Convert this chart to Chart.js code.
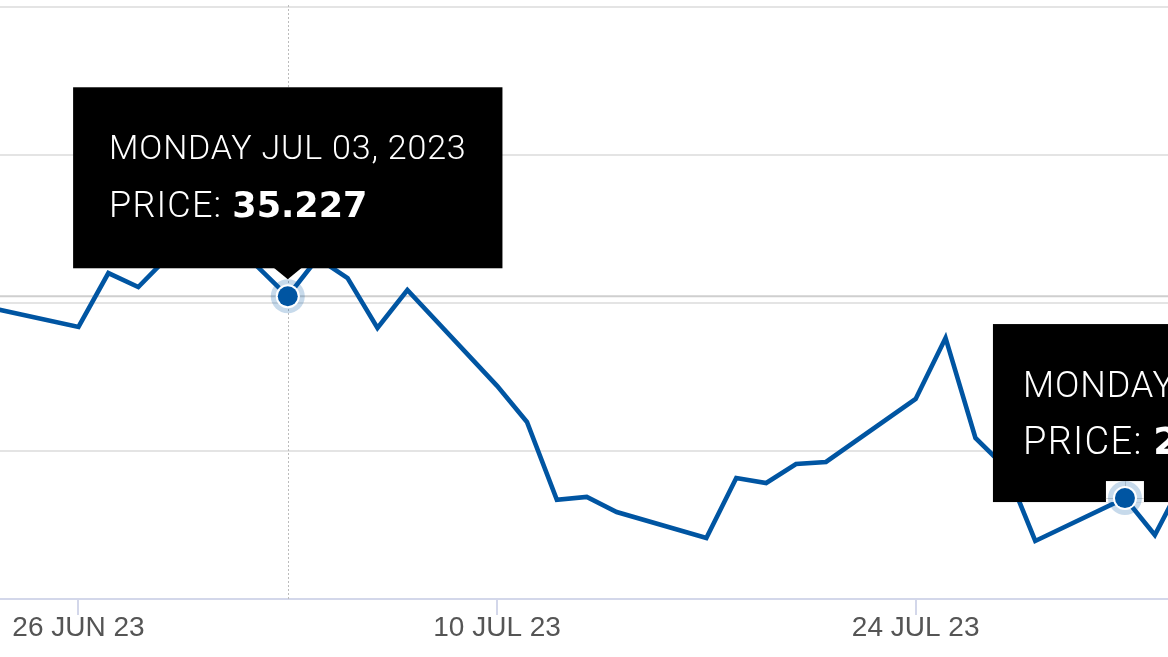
<!DOCTYPE html>
<html>
<head>
<meta charset="utf-8">
<script src="https://cdn.jsdelivr.net/npm/chart.js@4.4.0/dist/chart.umd.min.js"></script>
<style>
html,body{margin:0;padding:0;background:#fff;overflow:hidden}
#wrap{width:1168px;height:657px;position:relative}
</style>
</head>
<body>
<div id="wrap"><canvas id="c" width="1168" height="657"></canvas></div>
<script>
// ---- data ----
const dates = ['2023-06-23','2023-06-26','2023-06-27','2023-06-28','2023-06-29','2023-06-30',
  '2023-07-03','2023-07-04','2023-07-05','2023-07-06','2023-07-07',
  '2023-07-10','2023-07-11','2023-07-12','2023-07-13','2023-07-14',
  '2023-07-17','2023-07-18','2023-07-19','2023-07-20','2023-07-21',
  '2023-07-24','2023-07-25','2023-07-26','2023-07-27','2023-07-28',
  '2023-07-31','2023-08-01','2023-08-02'];
const prices = [34.85, 34.19, 36.01, 35.54, 36.57, 38.20,
  35.227, 36.52, 35.84, 34.16, 35.44,
  32.20, 30.98, 28.35, 28.45, 27.94,
  27.06, 29.09, 28.92, 29.56, 29.63,
  31.76, 33.82, 30.44, 29.45, 26.96,
  28.41, 27.16, 29.10];
const tickDates = ['2023-06-26','2023-07-10','2023-07-24'];
const tickLabels = ['26 JUN 23','10 JUL 23','24 JUL 23'];
const yGridValues = [25, 30, 35, 40, 45];
const tipDates = ['2023-07-03','2023-07-31'];
const tipTitles = ['MONDAY JUL 03, 2023','MONDAY JUL 31, 2023'];
const tipLabel = 'PRICE:';
const tipValues = ['35.227','28.410'];

// ---- helpers ----
const BASE = Date.parse('2023-06-26T00:00:00Z');
const dayOf = s => (Date.parse(s + 'T00:00:00Z') - BASE) / 86400000;
const priceOf = s => prices[dates.indexOf(s)];

const LINE = '#0055a2';

function drawPoint(ctx, px, py) {
  ctx.save();
  ctx.fillStyle = 'rgba(0,85,162,0.22)';
  ctx.beginPath(); ctx.arc(px, py, 17, 0, Math.PI * 2); ctx.fill();
  ctx.fillStyle = '#ffffff';
  ctx.beginPath(); ctx.arc(px, py, 12, 0, Math.PI * 2); ctx.fill();
  ctx.fillStyle = LINE;
  ctx.beginPath(); ctx.arc(px, py, 10, 0, Math.PI * 2); ctx.fill();
  ctx.restore();
}

// style per tooltip (index matches tipDates)
const tipStyles = [
  {titleFont:'300 34px Roboto', titleLS:'0.8px', labelFont:'300 36px Roboto', labelLS:'1.2px',
   valueFont:'bold 35px "DejaVu Sans"', padX:36, height:181, gap:28, titleOff:72, bodyOff:130,
   align:'center', caret:true},
  {titleFont:'300 36px Roboto', titleLS:'0.9px', labelFont:'300 38px Roboto', labelLS:'1.3px',
   valueFont:'bold 37px "DejaVu Sans"', padX:30, height:178, gap:-4, titleOff:73, bodyOff:130,
   align:'left', leftOff:132, caret:false}
];

function drawTip(ctx, i, px, py) {
  const s = tipStyles[i];
  ctx.save();
  ctx.textBaseline = 'alphabetic';
  ctx.font = s.titleFont; ctx.letterSpacing = s.titleLS;
  const tw = ctx.measureText(tipTitles[i]).width;
  ctx.font = s.labelFont; ctx.letterSpacing = s.labelLS;
  const lw = ctx.measureText(tipLabel + ' ').width;
  ctx.font = s.valueFont; ctx.letterSpacing = '0px';
  const vw = ctx.measureText(tipValues[i]).width;
  const w = Math.max(tw, lw + vw) + s.padX * 2;
  const bottom = py - s.gap;
  const top = bottom - s.height;
  const left = s.align === 'center' ? px - w / 2 : px - s.leftOff;
  ctx.fillStyle = '#000';
  ctx.fillRect(left, top, w, s.height);
  if (s.caret) {
    ctx.beginPath();
    ctx.moveTo(px - 14, bottom - 0.5);
    ctx.lineTo(px + 14, bottom - 0.5);
    ctx.lineTo(px, bottom + 11);
    ctx.closePath(); ctx.fill();
  }
  ctx.fillStyle = '#fff';
  ctx.font = s.titleFont; ctx.letterSpacing = s.titleLS;
  ctx.fillText(tipTitles[i], left + s.padX, top + s.titleOff);
  ctx.font = s.labelFont; ctx.letterSpacing = s.labelLS;
  ctx.fillText(tipLabel, left + s.padX, top + s.bodyOff);
  ctx.font = s.valueFont; ctx.letterSpacing = '0px';
  ctx.fillText(tipValues[i], left + s.padX + lw, top + s.bodyOff);
  ctx.restore();
  return {left, top, bottom, w};
}

const overlay = {
  id: 'overlay',
  beforeDatasetsDraw(chart) {
    const {ctx, chartArea: a, scales: {x, y}} = chart;
    const px = x.getPixelForValue(dayOf(tipDates[0]));
    const py = y.getPixelForValue(priceOf(tipDates[0]));
    ctx.save();
    ctx.strokeStyle = '#cfcfcf'; ctx.lineWidth = 2;
    ctx.beginPath(); ctx.moveTo(a.left, py); ctx.lineTo(a.right, py); ctx.stroke();
    ctx.strokeStyle = '#bcbcbc'; ctx.lineWidth = 1; ctx.setLineDash([2, 2]);
    const vx = Math.round(px) + 0.5;
    ctx.beginPath(); ctx.moveTo(vx, a.top - 2); ctx.lineTo(vx, a.bottom); ctx.stroke();
    ctx.restore();
  },
  afterDatasetsDraw(chart) {
    const {ctx, scales: {x, y}} = chart;
    let px = x.getPixelForValue(dayOf(tipDates[0]));
    let py = y.getPixelForValue(priceOf(tipDates[0]));
    drawTip(ctx, 0, px, py);
    drawPoint(ctx, px, py);
    px = x.getPixelForValue(dayOf(tipDates[1]));
    py = y.getPixelForValue(priceOf(tipDates[1]));
    const b = drawTip(ctx, 1, px, py);
    ctx.save();
    ctx.fillStyle = '#fff';
    ctx.fillRect(px - 19, py - 17, 38, b.bottom - (py - 17));
    ctx.strokeStyle = '#d4d4d4'; ctx.lineWidth = 1;
    ctx.beginPath();
    ctx.moveTo(px - 19, Math.round(py) + 0.5); ctx.lineTo(px + 19, Math.round(py) + 0.5);
    ctx.moveTo(Math.round(px) + 0.5, py - 17); ctx.lineTo(Math.round(px) + 0.5, b.bottom);
    ctx.stroke();
    ctx.restore();
    drawPoint(ctx, px, py);
  }
};

new Chart(document.getElementById('c'), {
  type: 'line',
  data: {
    datasets: [{
      data: dates.map((d, i) => ({x: dayOf(d), y: prices[i]})),
      borderColor: LINE,
      borderWidth: 4.6,
      borderJoinStyle: 'miter',
      pointRadius: 0,
      pointHoverRadius: 0,
      tension: 0,
      fill: false
    }]
  },
  options: {
    responsive: false,
    animation: false,
    events: [],
    layout: {padding: {top: 7, left: 0, right: 0, bottom: 0}},
    plugins: {legend: {display: false}, tooltip: {enabled: false}},
    scales: {
      x: {
        type: 'linear',
        min: -2.625,
        max: 36.44,
        afterBuildTicks: s => { s.ticks = tickDates.map(d => ({value: dayOf(d)})); },
        afterFit: s => { s.height = 58; },
        grid: {drawOnChartArea: false, drawTicks: true, tickLength: 16, color: '#d3d7ea', lineWidth: 2},
        border: {color: '#d3d7ea', width: 2},
        ticks: {
          callback: (v, i) => tickLabels[i],
          color: '#555555',
          font: {family: '"Liberation Sans", Arial, sans-serif', size: 28},
          padding: -4,
          maxRotation: 0,
          autoSkip: false
        }
      },
      y: {
        min: 25,
        max: 45,
        afterBuildTicks: s => { s.ticks = yGridValues.map(v => ({value: v})); },
        afterFit: s => { s.width = 0; },
        ticks: {display: false},
        grid: {color: '#e4e4e4', lineWidth: 2, drawTicks: false},
        border: {display: false}
      }
    }
  },
  plugins: [overlay]
});
</script>
</body>
</html>
